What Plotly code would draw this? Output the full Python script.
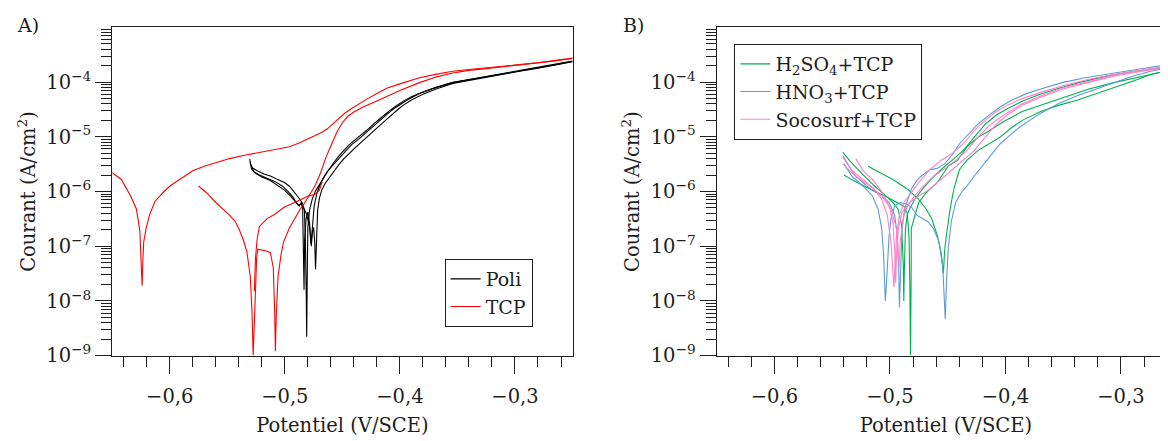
import plotly.graph_objects as go

# ---------------- Panel A data: (E [V/SCE], i [A/cm2]) ----------------
poli_run1 = [(-0.5305, 3.9e-6), (-0.5298, 3.2e-6), (-0.528, 2.7e-6), (-0.524, 2.4e-6), (-0.518, 2.1e-6),
             (-0.512, 1.9e-6), (-0.506, 1.65e-6), (-0.500, 1.45e-6), (-0.496, 1.25e-6), (-0.492, 1.0e-6),
             (-0.489, 8.2e-7), (-0.4865, 7.0e-7), (-0.4845, 6.0e-7), (-0.483, 4.5e-7), (-0.4822, 1.5e-7),
             (-0.4815, 2e-8), (-0.4810, 2.2e-9), (-0.4805, 3e-8), (-0.4800, 2.2e-7), (-0.4785, 4.6e-7),
             (-0.4760, 7.5e-7), (-0.4730, 1.05e-6), (-0.4700, 1.35e-6), (-0.4665, 1.8e-6), (-0.4630, 2.3e-6),
             (-0.4590, 2.9e-6), (-0.4550, 3.6e-6), (-0.4510, 4.5e-6), (-0.4460, 5.9e-6), (-0.4420, 7.2e-6),
             (-0.4360, 9.0e-6), (-0.4300, 1.15e-5), (-0.4240, 1.5e-5), (-0.4180, 1.95e-5), (-0.4120, 2.5e-5),
             (-0.4060, 3.2e-5), (-0.4000, 3.9e-5), (-0.3930, 4.8e-5), (-0.3830, 6.2e-5), (-0.3700, 7.8e-5),
             (-0.3540, 9.8e-5), (-0.3400, 1.1e-4), (-0.3250, 1.25e-4), (-0.3100, 1.42e-4), (-0.2960, 1.6e-4),
             (-0.2800, 1.83e-4), (-0.2670, 2.05e-4), (-0.2500, 2.4e-4)]
poli_run2 = [(-0.5302, 3.5e-6), (-0.5290, 2.6e-6), (-0.5260, 2.2e-6), (-0.5200, 1.85e-6), (-0.5130, 1.6e-6),
             (-0.5060, 1.3e-6), (-0.5000, 1.05e-6), (-0.4950, 8.2e-7), (-0.4910, 6.6e-7), (-0.4880, 5.6e-7),
             (-0.4860, 5.9e-7), (-0.4840, 5.2e-7), (-0.4810, 3.8e-7), (-0.4785, 2.2e-7), (-0.4770, 1.0e-7),
             (-0.4760, 1.8e-7), (-0.4750, 2.2e-7), (-0.4740, 1.2e-7), (-0.4733, 3.8e-8), (-0.4727, 1.3e-7),
             (-0.4715, 4.5e-7), (-0.4700, 7.5e-7), (-0.4680, 1.05e-6), (-0.4650, 1.4e-6), (-0.4610, 1.85e-6),
             (-0.4570, 2.4e-6), (-0.4530, 3.1e-6), (-0.4490, 3.9e-6), (-0.4440, 5.0e-6), (-0.4390, 6.3e-6),
             (-0.4330, 8.2e-6), (-0.4270, 1.05e-5), (-0.4210, 1.38e-5), (-0.4150, 1.8e-5), (-0.4090, 2.35e-5),
             (-0.4030, 3.0e-5), (-0.3970, 3.8e-5), (-0.3900, 4.7e-5), (-0.3800, 6.0e-5), (-0.3680, 7.6e-5),
             (-0.3540, 9.5e-5), (-0.3400, 1.08e-4), (-0.3250, 1.23e-4), (-0.3100, 1.4e-4), (-0.2960, 1.58e-4),
             (-0.2800, 1.8e-4), (-0.2670, 2.02e-4), (-0.2500, 2.36e-4)]
poli_run3 = [(-0.5295, 3.1e-6), (-0.5270, 2.3e-6), (-0.5220, 2.0e-6), (-0.5150, 1.75e-6), (-0.5080, 1.5e-6),
             (-0.5020, 1.25e-6), (-0.4970, 1.0e-6), (-0.4930, 8.0e-7), (-0.4900, 6.2e-7), (-0.4875, 5.4e-7),
             (-0.4855, 6.4e-7), (-0.4845, 4.8e-7), (-0.4838, 1.2e-7), (-0.4833, 1.6e-8), (-0.4828, 1.3e-7),
             (-0.4815, 3.2e-7), (-0.4800, 4.2e-7), (-0.4785, 2.6e-7), (-0.4772, 1.1e-7), (-0.4762, 2.4e-7),
             (-0.4745, 5.5e-7), (-0.4720, 9.5e-7), (-0.4690, 1.4e-6), (-0.4650, 2.0e-6), (-0.4610, 2.7e-6),
             (-0.4570, 3.5e-6), (-0.4530, 4.5e-6), (-0.4490, 5.6e-6), (-0.4440, 7.2e-6), (-0.4390, 8.8e-6),
             (-0.4330, 1.1e-5), (-0.4270, 1.42e-5), (-0.4210, 1.85e-5), (-0.4150, 2.4e-5), (-0.4090, 3.0e-5),
             (-0.4030, 3.7e-5), (-0.3970, 4.5e-5), (-0.3900, 5.4e-5), (-0.3800, 6.6e-5), (-0.3680, 8.1e-5),
             (-0.3540, 9.9e-5), (-0.3400, 1.12e-4), (-0.3250, 1.27e-4), (-0.3100, 1.44e-4), (-0.2960, 1.62e-4),
             (-0.2800, 1.85e-4), (-0.2670, 2.07e-4), (-0.2500, 2.42e-4)]

tcp_run1 = [(-0.650, 2.2e-6), (-0.642, 1.66e-6), (-0.634, 8.3e-7), (-0.629, 4.8e-7), (-0.626, 1.9e-7),
            (-0.625, 5e-8), (-0.624, 1.9e-8), (-0.6233, 6e-8), (-0.6226, 1.2e-7), (-0.6206, 2.1e-7),
            (-0.6176, 3.7e-7), (-0.613, 6.5e-7), (-0.606, 9.5e-7), (-0.599, 1.3e-6), (-0.590, 1.75e-6),
            (-0.580, 2.4e-6), (-0.570, 2.9e-6), (-0.560, 3.4e-6), (-0.548, 4.0e-6), (-0.535, 4.6e-6),
            (-0.520, 5.3e-6), (-0.509, 5.7e-6), (-0.496, 6.6e-6), (-0.487, 7.8e-6), (-0.480, 9.0e-6),
            (-0.474, 1.05e-5), (-0.468, 1.2e-5), (-0.463, 1.4e-5), (-0.458, 1.75e-5), (-0.453, 2.2e-5),
            (-0.448, 2.7e-5), (-0.442, 3.3e-5), (-0.435, 4.1e-5), (-0.428, 5.0e-5), (-0.420, 6.2e-5),
            (-0.411, 7.8e-5), (-0.400, 9.3e-5), (-0.383, 1.2e-4), (-0.368, 1.4e-4), (-0.354, 1.58e-4),
            (-0.340, 1.7e-4), (-0.325, 1.81e-4), (-0.310, 1.95e-4), (-0.296, 2.09e-4), (-0.280, 2.27e-4),
            (-0.267, 2.45e-4), (-0.250, 2.75e-4)]
tcp_run2 = [(-0.575, 1.26e-6), (-0.568, 9.5e-7), (-0.560, 6.3e-7), (-0.552, 4.5e-7), (-0.548, 3.7e-7),
            (-0.543, 2.8e-7), (-0.540, 2.1e-7), (-0.536, 1.3e-7), (-0.533, 8e-8), (-0.530, 2.8e-8),
            (-0.5285, 6e-9), (-0.5275, 1.0e-9), (-0.5265, 4e-9), (-0.5255, 2.5e-8), (-0.5245, 6e-8),
            (-0.5235, 8.8e-8), (-0.520, 8.6e-8), (-0.516, 8.2e-8), (-0.5125, 7.6e-8), (-0.510, 4e-8),
            (-0.5088, 6e-9), (-0.5082, 1.2e-9), (-0.5075, 5e-9), (-0.5068, 1.5e-8), (-0.5059, 2.8e-8),
            (-0.5033, 7e-8), (-0.5011, 1.2e-7), (-0.4962, 2.1e-7), (-0.4914, 3.2e-7), (-0.4866, 4.8e-7),
            (-0.4834, 5.9e-7), (-0.4786, 8.9e-7), (-0.4738, 1.26e-6), (-0.4689, 2.2e-6), (-0.4641, 4.3e-6),
            (-0.4593, 7.4e-6), (-0.4545, 1.25e-5), (-0.4497, 1.85e-5), (-0.4450, 2.4e-5), (-0.4400, 2.85e-5),
            (-0.432, 3.5e-5), (-0.4215, 4.4e-5), (-0.4115, 5.5e-5), (-0.400, 7.0e-5), (-0.383, 9.8e-5),
            (-0.368, 1.25e-4), (-0.354, 1.47e-4), (-0.340, 1.64e-4), (-0.325, 1.77e-4), (-0.310, 1.91e-4),
            (-0.296, 2.05e-4), (-0.280, 2.24e-4), (-0.267, 2.42e-4), (-0.250, 2.7e-4)]
tcp_run3 = [(-0.5265, 1.5e-8), (-0.5255, 6e-8), (-0.5240, 1.4e-7), (-0.5220, 2.3e-7), (-0.5155, 3.2e-7),
            (-0.5090, 3.8e-7), (-0.5010, 5.1e-7), (-0.4940, 6.0e-7), (-0.4866, 7.2e-7), (-0.4800, 8.2e-7),
            (-0.4738, 8.9e-7), (-0.4700, 1.05e-6), (-0.4675, 1.5e-6)]

# ---------------- Panel B data ----------------
h2so4_run1 = [(-0.5408, 5.2e-6), (-0.5330, 3.3e-6), (-0.5240, 2.1e-6), (-0.5140, 1.3e-6), (-0.5040, 8.5e-7),
              (-0.4975, 6.3e-7), (-0.4930, 4.8e-7), (-0.4900, 2.5e-7), (-0.4885, 5e-8), (-0.4880, 1.0e-8),
              (-0.4875, 4e-8), (-0.4866, 2e-7), (-0.4850, 3.8e-7), (-0.4831, 4.8e-7), (-0.4780, 7.5e-7),
              (-0.4719, 1.1e-6), (-0.4640, 1.7e-6), (-0.4559, 2.5e-6), (-0.4463, 3.7e-6), (-0.4367, 5.6e-6),
              (-0.4271, 9.8e-6), (-0.4175, 1.7e-5), (-0.4079, 2.5e-5), (-0.3980, 3.3e-5), (-0.3850, 4.5e-5),
              (-0.3700, 6.0e-5), (-0.3530, 7.8e-5), (-0.3350, 1.0e-4), (-0.3150, 1.25e-4), (-0.2950, 1.5e-4),
              (-0.2730, 1.75e-4), (-0.2516, 2.0e-4)]
h2so4_run2 = [(-0.5398, 2.0e-6), (-0.5320, 1.6e-6), (-0.5220, 1.25e-6), (-0.5120, 1.0e-6), (-0.5030, 8.0e-7),
              (-0.4950, 6.5e-7), (-0.4880, 5.4e-7), (-0.4850, 4.0e-7), (-0.4835, 1.5e-7), (-0.4828, 2e-8),
              (-0.4822, 1.0e-9), (-0.4817, 2e-8), (-0.4815, 2.1e-7), (-0.4783, 3.7e-7), (-0.4751, 6.3e-7),
              (-0.4687, 9.5e-7), (-0.4591, 1.45e-6), (-0.4495, 2.9e-6), (-0.4415, 3.7e-6), (-0.4335, 6.5e-6),
              (-0.4239, 9.8e-6), (-0.4143, 1.28e-5), (-0.4015, 1.9e-5), (-0.3855, 2.9e-5), (-0.3695, 3.8e-5),
              (-0.3502, 5.3e-5), (-0.3278, 7.5e-5), (-0.3054, 9.9e-5), (-0.2798, 1.3e-4), (-0.2516, 1.75e-4)]
h2so4_run3 = [(-0.5190, 2.9e-6), (-0.5103, 2.3e-6), (-0.4975, 1.66e-6), (-0.4847, 1.1e-6), (-0.4751, 7.2e-7),
              (-0.4687, 4.8e-7), (-0.4639, 3.2e-7), (-0.4591, 1.6e-7), (-0.4559, 8.1e-8), (-0.4543, 4.2e-8),
              (-0.4537, 3.2e-8), (-0.4527, 8e-8), (-0.4511, 1.6e-7), (-0.4479, 4.8e-7), (-0.4447, 1.1e-6),
              (-0.4399, 2.5e-6), (-0.4335, 3.7e-6), (-0.4239, 5.6e-6), (-0.4143, 7.4e-6), (-0.4047, 9.8e-6),
              (-0.3951, 1.45e-5), (-0.3855, 2.0e-5), (-0.3695, 2.9e-5), (-0.3534, 3.8e-5), (-0.3374, 4.7e-5),
              (-0.3214, 6.1e-5), (-0.3054, 8.1e-5), (-0.2894, 1.05e-4), (-0.2734, 1.39e-4), (-0.2516, 1.8e-4)]

hno3_run1 = [(-0.5398, 3.2e-6), (-0.5328, 1.9e-6), (-0.5232, 1.25e-6), (-0.5151, 8.3e-7), (-0.5103, 4.8e-7),
             (-0.5071, 2.1e-7), (-0.5055, 7e-8), (-0.5046, 2.1e-8), (-0.5040, 1.0e-8), (-0.5030, 2.1e-8),
             (-0.5020, 7e-8), (-0.5007, 1.6e-7), (-0.4991, 3.2e-7), (-0.4959, 5.5e-7), (-0.4911, 6.3e-7),
             (-0.4863, 6.0e-7), (-0.4815, 5.2e-7), (-0.4767, 3.7e-7), (-0.4719, 3.2e-7), (-0.4671, 2.8e-7),
             (-0.4623, 2.1e-7), (-0.4575, 1.2e-7), (-0.4543, 4.2e-8), (-0.4527, 1.0e-8), (-0.4521, 4.6e-9),
             (-0.4511, 2.1e-8), (-0.4495, 9.3e-8), (-0.4469, 2.8e-7), (-0.4431, 6.3e-7), (-0.4383, 9.5e-7),
             (-0.4335, 1.25e-6), (-0.4271, 1.9e-6), (-0.4207, 2.8e-6), (-0.4143, 4.3e-6), (-0.4095, 5.6e-6),
             (-0.4047, 7.4e-6), (-0.3983, 9.8e-6), (-0.3887, 1.45e-5), (-0.3791, 2.0e-5), (-0.3695, 2.7e-5),
             (-0.3534, 4.1e-5), (-0.3374, 5.7e-5), (-0.3214, 7.5e-5), (-0.3054, 9.9e-5), (-0.2894, 1.3e-4),
             (-0.2734, 1.6e-4), (-0.2516, 1.95e-4)]
hno3_run2 = [(-0.5408, 4.3e-6), (-0.5296, 1.9e-6), (-0.5167, 1.1e-6), (-0.5071, 8.3e-7), (-0.5007, 6.3e-7),
             (-0.4959, 3.7e-7), (-0.4937, 1.6e-7), (-0.4924, 4.2e-8), (-0.4918, 7.6e-9), (-0.4908, 4.2e-8),
             (-0.4895, 2.1e-7), (-0.4873, 4.8e-7), (-0.4847, 7.2e-7), (-0.4815, 1.1e-6), (-0.4767, 1.6e-6),
             (-0.4719, 2.0e-6), (-0.4655, 2.5e-6), (-0.4591, 2.65e-6), (-0.4527, 3.2e-6), (-0.4463, 4.6e-6),
             (-0.4399, 7.4e-6), (-0.4335, 1.05e-5), (-0.4239, 1.7e-5), (-0.4143, 2.5e-5), (-0.4047, 3.5e-5),
             (-0.3951, 4.6e-5), (-0.3823, 6.1e-5), (-0.3695, 7.5e-5), (-0.3502, 9.9e-5), (-0.3310, 1.2e-4),
             (-0.3054, 1.48e-4), (-0.2798, 1.8e-4), (-0.2516, 2.2e-4)]

socosurf_run1 = [(-0.5408, 4.5e-6), (-0.5328, 2.4e-6), (-0.5232, 1.66e-6), (-0.5135, 1.1e-6), (-0.5071, 7.2e-7),
                 (-0.5023, 3.7e-7), (-0.4991, 1.2e-7), (-0.4975, 4.2e-8), (-0.4966, 1.8e-8), (-0.4956, 4.2e-8),
                 (-0.4943, 1.6e-7), (-0.4918, 3.7e-7), (-0.4879, 6.3e-7), (-0.4815, 9.5e-7), (-0.4751, 1.45e-6),
                 (-0.4655, 2.5e-6), (-0.4559, 3.7e-6), (-0.4463, 4.9e-6), (-0.4367, 7.4e-6), (-0.4271, 1.28e-5),
                 (-0.4175, 2.0e-5), (-0.4079, 2.9e-5), (-0.3983, 3.8e-5), (-0.3855, 5.0e-5), (-0.3695, 6.5e-5),
                 (-0.3502, 8.6e-5), (-0.3278, 1.13e-4), (-0.3054, 1.39e-4), (-0.2798, 1.7e-4), (-0.2516, 2.1e-4)]
socosurf_run2 = [(-0.5296, 4.0e-6), (-0.5232, 2.4e-6), (-0.5151, 1.66e-6), (-0.5071, 1.0e-6), (-0.5007, 5.5e-7),
                 (-0.4975, 2.8e-7), (-0.4956, 7e-8), (-0.4950, 2.1e-8), (-0.4943, 7e-8), (-0.4927, 2.1e-7),
                 (-0.4895, 4.2e-7), (-0.4831, 6.3e-7), (-0.4751, 8.3e-7), (-0.4655, 1.1e-6), (-0.4559, 1.66e-6),
                 (-0.4463, 2.5e-6), (-0.4367, 3.7e-6), (-0.4271, 5.6e-6), (-0.4175, 9.8e-6), (-0.4079, 1.7e-5),
                 (-0.3983, 2.5e-5), (-0.3855, 3.8e-5), (-0.3695, 5.3e-5), (-0.3502, 7.5e-5), (-0.3278, 9.9e-5),
                 (-0.3054, 1.3e-4), (-0.2798, 1.6e-4), (-0.2516, 2.0e-4)]
socosurf_run3 = [(-0.5408, 3.2e-6), (-0.5296, 1.9e-6), (-0.5167, 1.25e-6), (-0.5071, 8.3e-7), (-0.4991, 4.8e-7),
                 (-0.4943, 2.1e-7), (-0.4927, 7e-8), (-0.4921, 4.2e-8), (-0.4911, 1.2e-7), (-0.4886, 3.2e-7),
                 (-0.4847, 5.5e-7), (-0.4783, 8.5e-7), (-0.4719, 1.2e-6), (-0.4623, 1.9e-6), (-0.4527, 2.6e-6),
                 (-0.4431, 3.7e-6), (-0.4335, 5.6e-6), (-0.4239, 9.8e-6), (-0.4143, 1.6e-5), (-0.4015, 2.5e-5),
                 (-0.3855, 4.0e-5), (-0.3695, 5.6e-5), (-0.3502, 7.9e-5), (-0.3278, 1.04e-4), (-0.3054, 1.34e-4),
                 (-0.2798, 1.65e-4), (-0.2516, 2.05e-4)]

# ---------------- axis text ----------------
x_tick_values = [-0.6, -0.5, -0.4, -0.3]
x_minor_values = [-0.64, -0.62, -0.58, -0.56, -0.54, -0.52, -0.48, -0.46, -0.44, -0.42,
                  -0.38, -0.36, -0.34, -0.32, -0.28, -0.26]
y_tick_values = [1e-9, 1e-8, 1e-7, 1e-6, 1e-5, 1e-4]
y_tick_labels = ["10<sup>−9</sup>", "10<sup>−8</sup>", "10<sup>−7</sup>",
                 "10<sup>−6</sup>", "10<sup>−5</sup>", "10<sup>−4</sup>"]
y_minor_values = [k * 10.0 ** n for n in range(-9, -3) for k in range(2, 10)]


def join_runs(*runs):
    E, I = [], []
    for k, run in enumerate(runs):
        if k:
            E.append(None)
            I.append(None)
        E += [p[0] for p in run]
        I += [p[1] for p in run]
    return E, I


FONT = "DejaVu Serif"
TXT = "#1e1e1e"
W, H = 1168, 441
TICK_FS = 19.5

fig = go.Figure()

series_a = [("Poli", "#000000", (poli_run1, poli_run2, poli_run3)),
            ("TCP", "#ff0000", (tcp_run1, tcp_run2, tcp_run3))]
for name, col, runs in series_a:
    E, I = join_runs(*runs)
    fig.add_trace(go.Scatter(x=E, y=I, mode="lines", name=name, line=dict(color=col, width=1.1),
                             xaxis="x", yaxis="y", legend="legend", connectgaps=False))

series_b = [("H<sub>2</sub>SO<sub>4</sub>+TCP", "#00b050", (h2so4_run1, h2so4_run2, h2so4_run3)),
            ("HNO<sub>3</sub>+TCP", "#5b9bd5", (hno3_run1, hno3_run2)),
            ("Socosurf+TCP", "#ff80c8", (socosurf_run1, socosurf_run2, socosurf_run3))]
for name, col, runs in series_b:
    E, I = join_runs(*runs)
    fig.add_trace(go.Scatter(x=E, y=I, mode="lines", name=name, line=dict(color=col, width=1.1),
                             xaxis="x2", yaxis="y2", legend="legend2", connectgaps=False))

y_dom = [(H - 357.3) / H, (H - 20) / H]


def xaxis(domain, rng, anchor):
    return dict(domain=domain, range=rng, anchor=anchor, tickmode="array", tickvals=x_tick_values,
                tickformat=".1f", ticks="outside", ticklen=17, tickwidth=1.3, tickcolor=TXT,
                showline=True, linecolor=TXT, linewidth=1.3, mirror=True, showgrid=False, zeroline=False,
                tickfont=dict(family=FONT, size=TICK_FS, color=TXT), ticklabelstandoff=6,
                minor=dict(tickmode="array", tickvals=x_minor_values, ticks="outside", ticklen=10,
                           tickwidth=1.3, tickcolor=TXT, showgrid=False),
                title=dict(text="Potentiel (V/SCE)", font=dict(family=FONT, size=19.5, color=TXT), standoff=11))


def yaxis(anchor):
    return dict(domain=y_dom, type="log", range=[-9, -3], anchor=anchor, tickmode="array",
                tickvals=y_tick_values, ticktext=y_tick_labels, ticks="outside", ticklen=16, tickwidth=1.3,
                tickcolor=TXT, showline=True, linecolor=TXT, linewidth=1.3, mirror=True, showgrid=False,
                zeroline=False, tickfont=dict(family=FONT, size=TICK_FS, color=TXT),
                minor=dict(tickmode="array", tickvals=y_minor_values, ticks="outside", ticklen=10,
                           tickwidth=1.1, tickcolor=TXT, showgrid=False),
                title=dict(text="Courant (A/cm<sup>2</sup>)", font=dict(family=FONT, size=19.5, color=TXT),
                           standoff=5))


xa_left, xa_right = 104.3, 565.0
xb_left = 709.3
fig.update_layout(
    width=W, height=H, margin=dict(l=0, r=0, t=0, b=0),
    paper_bgcolor="white", plot_bgcolor="white", separators=",.",
    font=dict(family=FONT, size=18, color=TXT),
    xaxis=xaxis([xa_left / W, xa_right / W], [-0.65, -0.25], "y"),
    yaxis=yaxis("x"),
    xaxis2=xaxis([xb_left / W, 1.0], [-0.65, -0.65 + (W - xb_left) / 1156.0], "y2"),
    yaxis2=yaxis("x2"),
    legend=dict(x=437 / W, y=1 - 258 / H, xanchor="left", yanchor="top", bgcolor="white",
                bordercolor=TXT, borderwidth=1, font=dict(family=FONT, size=19, color=TXT)),
    legend2=dict(x=727 / W, y=1 - 37 / H, xanchor="left", yanchor="top", bgcolor="white",
                 bordercolor=TXT, borderwidth=1, font=dict(family=FONT, size=19, color=TXT)),
    annotations=[
        dict(text="A)", x=7 / W, y=1 - 17 / H, xref="paper", yref="paper", xanchor="left",
             yanchor="middle", showarrow=False, font=dict(family=FONT, size=19, color=TXT)),
        dict(text="B)", x=614 / W, y=1 - 17 / H, xref="paper", yref="paper", xanchor="left",
             yanchor="middle", showarrow=False, font=dict(family=FONT, size=19, color=TXT)),
    ],
)

fig.write_html("out.html")
